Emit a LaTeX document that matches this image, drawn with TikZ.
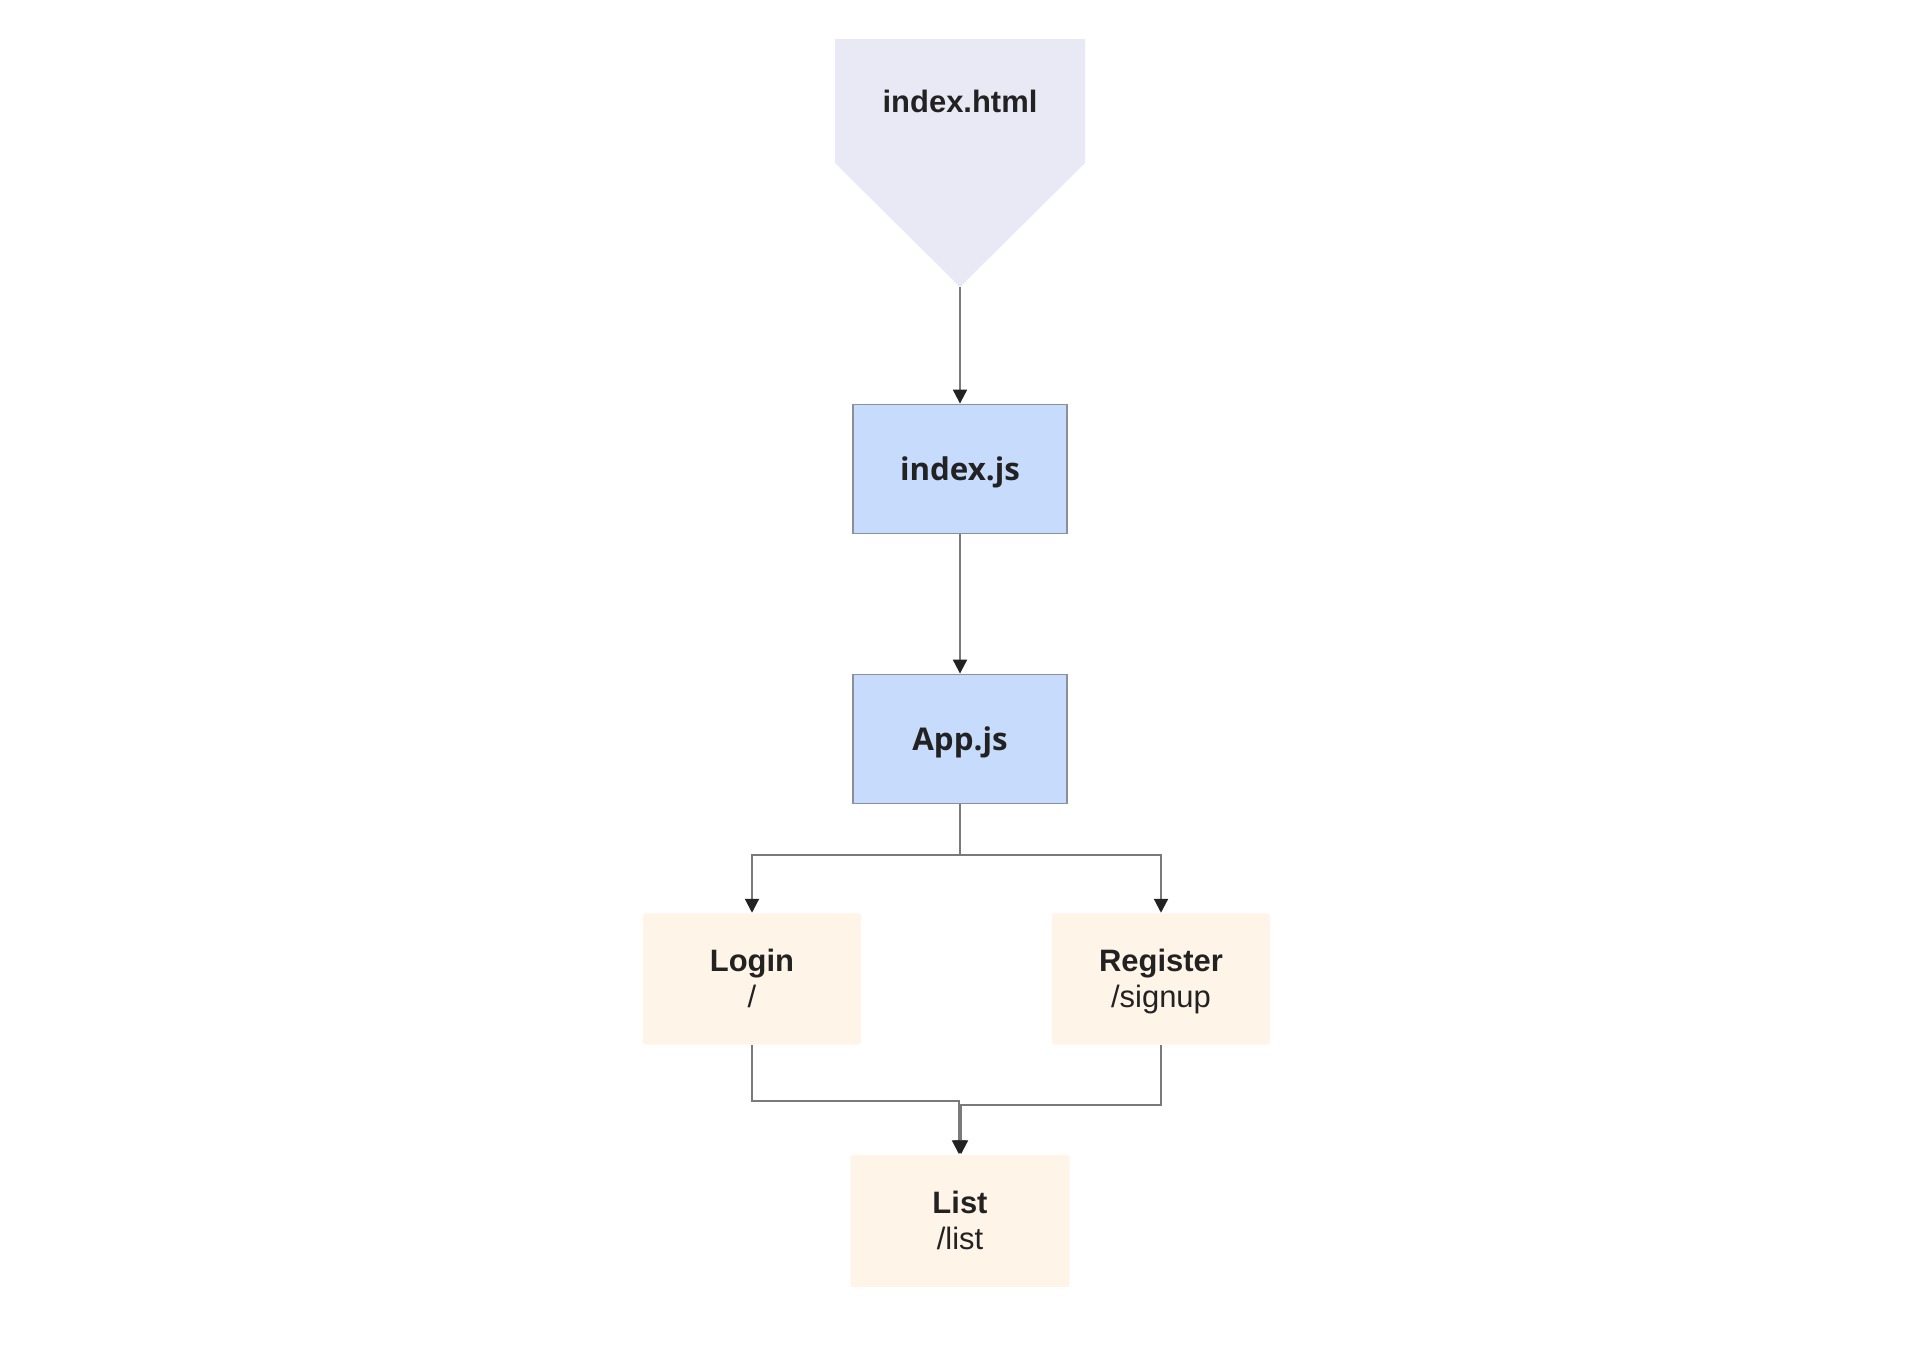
\documentclass[tikz,border=0pt]{standalone}
\usepackage{fontspec}
\setmainfont{Liberation Sans}
\newfontfamily\jsfont{Open Sans}
\usetikzlibrary{arrows.meta,positioning}

\definecolor{htmlfill}{HTML}{E9E9F5}
\definecolor{jsfill}{HTML}{C7DCFC}
\definecolor{jsdraw}{HTML}{8A909C}
\definecolor{pagefill}{HTML}{FEF4E8}
\definecolor{linkgray}{HTML}{7A7A7A}
\definecolor{tipdark}{HTML}{222222}

\newcommand\rowstrut{\rule[-2.2pt]{0pt}{10.2pt}}

\begin{document}
\begin{tikzpicture}[
  x=0.01cm, y=-0.01cm,
  every node/.style={font=\fontsize{8.8}{10.3}\selectfont, text=tipdark},
  jsbox/.style={draw=jsdraw, fill=jsfill, line width=0.5pt,
    font=\fontsize{8.9}{10.3}\selectfont\jsfont\bfseries,
    text height=8.4pt, text depth=1.8pt,
    minimum width=2.14cm, minimum height=1.29cm},
  pagebox/.style={fill=pagefill, rounded corners=0.5pt, align=center,
    minimum width=2.18cm, minimum height=1.31cm},
  link/.style={draw=linkgray, line width=0.6pt, -{Triangle[length=0.14cm, width=0.14cm, color=tipdark]}}
]
\useasboundingbox (0,0) rectangle (1911,1354);

% entry page
\fill[htmlfill] (835,39) -- (1085,39) -- (1085,163) -- (960,287) -- (835,163) -- cycle;
\node[font=\fontsize{8.8}{10.3}\selectfont\bfseries] (html) at (960,101) {index.html};
\coordinate (htmltip) at (960,287);

% scripts
\node[jsbox] (indexjs) at (960,469) {index.js};
\node[jsbox] (appjs) at (960,739) {App.js};

% routes
\node[pagebox] (login) at (752,979) {\textbf{Login}\rowstrut\\/\rowstrut};
\node[pagebox] (register) at (1161,979) {\textbf{Register}\rowstrut\\/signup\rowstrut};
\node[pagebox, minimum width=2.19cm, minimum height=1.32cm] (list) at (960,1221) {\textbf{List}\rowstrut\\/list\rowstrut};

\coordinate (fork) at (960,855);

\draw[link] (htmltip) -- (indexjs);
\draw[link] (indexjs) -- (appjs);
\draw[link] (appjs.south) -- (fork) -| (login.north);
\draw[link] (fork) -| (register.north);
\draw[link] (login.south) |- (959,1101) -- (list.north -| 959,0);
\draw[link] (register.south) |- (961,1105) -- (list.north -| 961,0);
\end{tikzpicture}
\end{document}
